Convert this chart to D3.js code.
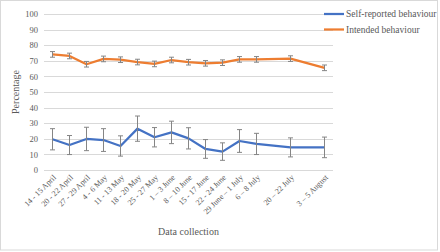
<!DOCTYPE html>
<html>
<head>
<meta charset="utf-8">
<script src="https://cdn.jsdelivr.net/npm/d3@7"></script>
<style>
  html, body { margin: 0; padding: 0; background: #fff; }
  text { font-family: "Liberation Serif", "Times New Roman", serif; fill: #595959; }
</style>
</head>
<body>
<div id="chart"></div>
<script>
// weekly data collection rounds (two weeks had no survey)
var categories = ["14 - 15 April", "20 - 22 April", "27 - 29 April", "4 - 6 May", "11 - 13 May",
  "18 - 20 May", "25 - 27 May", "1 – 3 June", "8 – 10 June", "15 - 17 June", "22 - 24 June",
  "29 June – 1 July", "6 – 8 July", "", "20 – 22 July", "", "3 – 5 August"];
var selfReported = [19.7, 16.0, 19.9, 19.2, 15.4, 26.5, 21.0, 24.1, 20.3, 13.5, 11.8, 18.6, 16.7, null, 14.5, null, 14.5];
var selfErr      = [6.8, 6.1, 7.5, 7.3, 6.5, 8.1, 6.2, 7.2, 6.8, 6.0, 5.6, 7.3, 6.8, null, 6.1, null, 6.6];
var intended     = [74.1, 73.1, 67.8, 71.2, 70.7, 69.2, 68.0, 70.5, 69.1, 68.4, 68.8, 70.9, 70.9, null, 71.4, null, 65.5];
var intendedErr  = [1.8, 1.8, 1.8, 1.8, 1.8, 1.8, 1.8, 1.8, 1.8, 1.8, 1.8, 1.8, 1.8, null, 1.8, null, 1.8];
var yTicks = [0, 10, 20, 30, 40, 50, 60, 70, 80, 90, 100];

var series = [
  { name: "Self-reported behaviour", values: selfReported, err: selfErr, color: "#4472C4" },
  { name: "Intended behaviour", values: intended, err: intendedErr, color: "#ED7D31" }
];

var width = 440, height = 252;
var margin = { left: 44, right: 107, top: 14, bottom: 82 };

var svg = d3.select("#chart").append("svg")
  .attr("width", width)
  .attr("height", height);

// chart border
svg.append("rect")
  .attr("x", 0.5).attr("y", 0.5)
  .attr("width", 437).attr("height", 249.5)
  .attr("fill", "#fff")
  .attr("stroke", "#d9d9d9");

var x = d3.scaleBand()
  .domain(d3.range(categories.length))
  .range([margin.left, width - margin.right]);

var y = d3.scaleLinear()
  .domain([0, 100])
  .range([height - margin.bottom, margin.top]);

var cx = function (i) { return x(i) + x.bandwidth() / 2; };

// gridlines
svg.append("g").selectAll("line")
  .data(yTicks)
  .enter().append("line")
  .attr("x1", margin.left).attr("x2", width - margin.right)
  .attr("y1", function (d) { return Math.round(y(d)) + 0.5; })
  .attr("y2", function (d) { return Math.round(y(d)) + 0.5; })
  .attr("stroke", "#d9d9d9")
  .attr("stroke-width", 1);

// y axis labels
var yAxis = d3.axisLeft(y).tickValues(yTicks).tickSize(0).tickPadding(6);
var gy = svg.append("g")
  .attr("transform", "translate(" + margin.left + ",0)")
  .call(yAxis);
gy.select(".domain").remove();
gy.selectAll("text")
  .attr("font-size", "8.5px")
  .style("font-family", "Liberation Serif, serif")
  .attr("fill", "#595959");

// x axis labels, rotated
var xAxis = d3.axisBottom(x).tickFormat(function (i) { return categories[i]; }).tickSize(0).tickPadding(0);
var gx = svg.append("g")
  .attr("transform", "translate(0," + (height - margin.bottom) + ")")
  .call(xAxis);
gx.select(".domain").remove();
gx.selectAll("text")
  .attr("font-size", "8px")
  .style("font-family", "Liberation Serif, serif")
  .attr("fill", "#595959")
  .attr("text-anchor", "end")
  .attr("dy", null)
  .attr("y", 0)
  .attr("transform", "translate(4,8) rotate(-45)");

// axis titles
svg.append("text")
  .attr("transform", "translate(19," + ((margin.top + height - margin.bottom) / 2) + ") rotate(-90)")
  .attr("text-anchor", "middle")
  .attr("font-size", "10px")
  .text("Percentage");

svg.append("text")
  .attr("x", (margin.left + width - margin.right) / 2)
  .attr("y", 235)
  .attr("text-anchor", "middle")
  .attr("font-size", "10px")
  .text("Data collection");

// lines (gaps bridged, like Excel "connect data points")
var line = d3.line()
  .x(function (d) { return cx(d.i); })
  .y(function (d) { return y(d.v); });

series.forEach(function (s) {
  var pts = s.values.map(function (v, i) { return { i: i, v: v, e: s.err[i] }; })
    .filter(function (d) { return d.v != null; });

  svg.append("path")
    .datum(pts)
    .attr("d", line)
    .attr("fill", "none")
    .attr("stroke", s.color)
    .attr("stroke-width", 2.25)
    .attr("stroke-linejoin", "round");

  var eb = svg.append("g").selectAll("g")
    .data(pts)
    .enter().append("g")
    .attr("stroke", "#858585")
    .attr("stroke-width", 1);
  eb.append("line")
    .attr("x1", function (d) { return cx(d.i); })
    .attr("x2", function (d) { return cx(d.i); })
    .attr("y1", function (d) { return y(d.v - d.e); })
    .attr("y2", function (d) { return y(d.v + d.e); });
  eb.append("line")
    .attr("x1", function (d) { return cx(d.i) - 2.5; })
    .attr("x2", function (d) { return cx(d.i) + 2.5; })
    .attr("y1", function (d) { return y(d.v + d.e); })
    .attr("y2", function (d) { return y(d.v + d.e); });
  eb.append("line")
    .attr("x1", function (d) { return cx(d.i) - 2.5; })
    .attr("x2", function (d) { return cx(d.i) + 2.5; })
    .attr("y1", function (d) { return y(d.v - d.e); })
    .attr("y2", function (d) { return y(d.v - d.e); });
});

// legend
var legend = svg.append("g").selectAll("g")
  .data(series)
  .enter().append("g")
  .attr("transform", function (d, i) { return "translate(324," + (14 + i * 15.5) + ")"; });
legend.append("line")
  .attr("x1", 0).attr("x2", 20)
  .attr("stroke", function (d) { return d.color; })
  .attr("stroke-width", 2.25);
legend.append("text")
  .attr("x", 22)
  .attr("dy", "0.35em")
  .attr("font-size", "9.5px")
  .text(function (d) { return d.name; });
</script>
</body>
</html>
